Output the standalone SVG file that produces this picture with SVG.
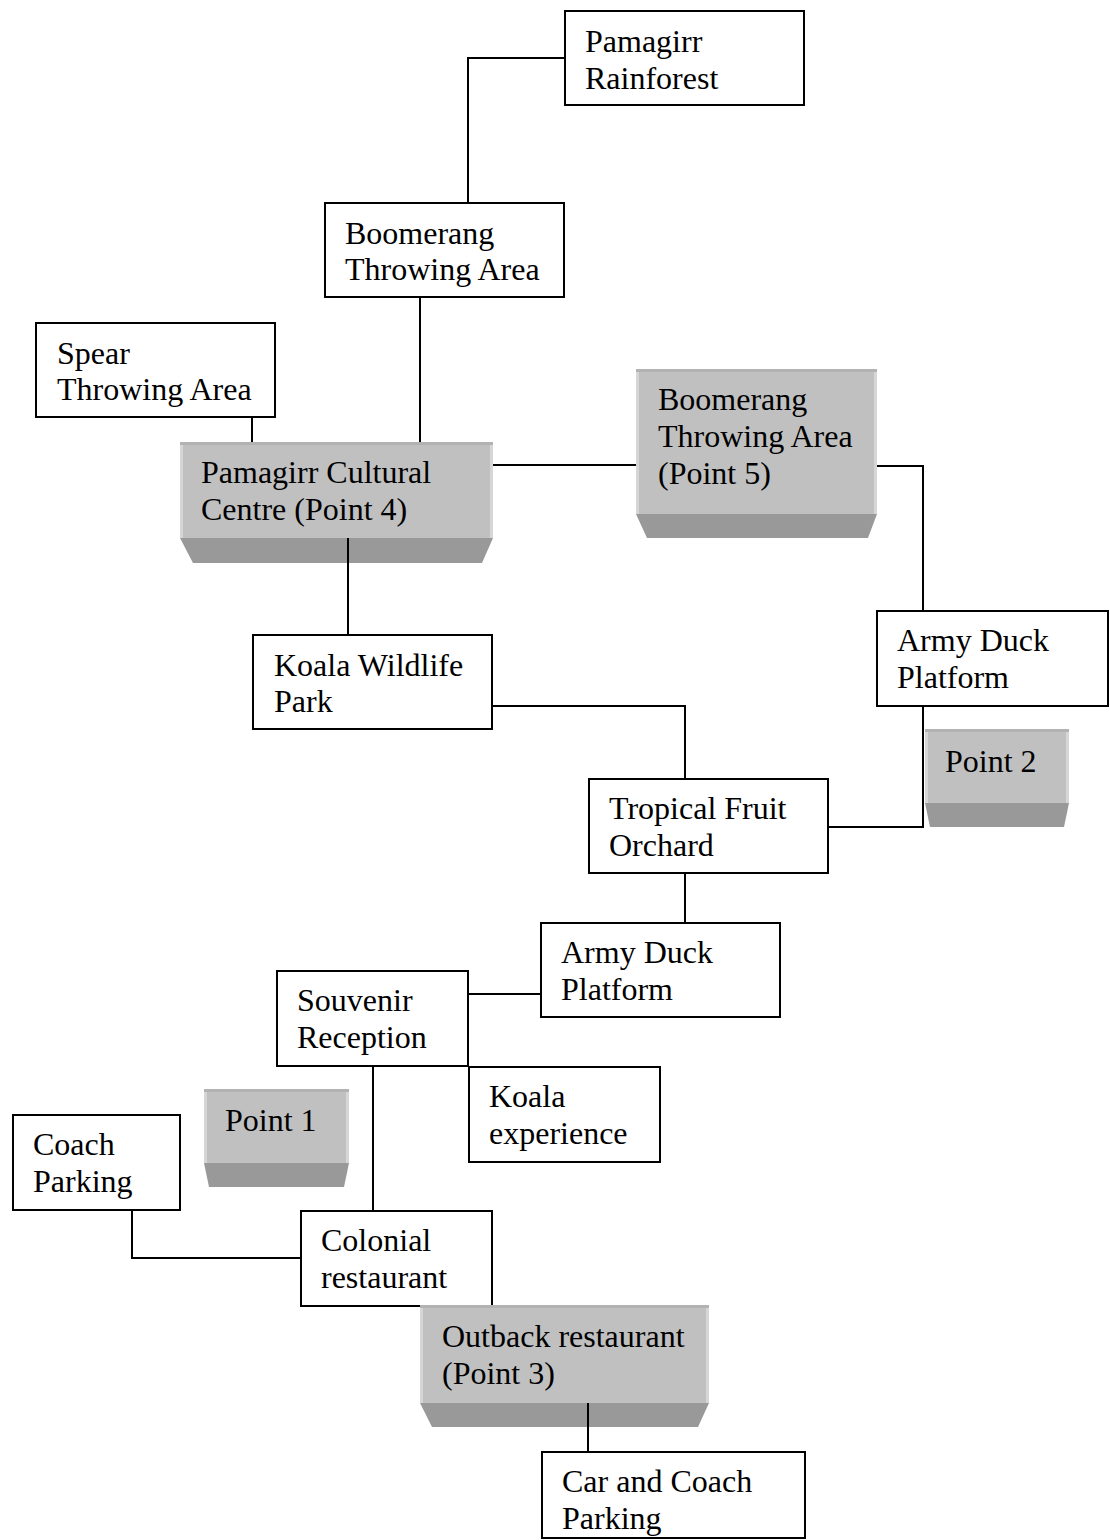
<svg xmlns="http://www.w3.org/2000/svg" width="1110" height="1540" viewBox="0 0 1110 1540">
<style>
.box{fill:#fff;stroke:#000;stroke-width:2}
.face{fill:#c0c0c0}
.topedge{fill:#b2b2b2}
.sideedge{fill:#d6d6d6}
.bevel{fill:#999999}
.t{font-family:"Liberation Serif","Times New Roman",serif;font-size:32px;fill:#000}
.c{fill:none;stroke:#000;stroke-width:2}
</style>
<rect width="1110" height="1540" fill="#fff"/>
<g id="nodes">
<g id="rainforest"><rect class="box" x="565" y="11" width="239" height="94"/><text class="t" x="585" y="52">Pamagirr</text><text class="t" x="585" y="89">Rainforest</text></g>
<g id="boomerang-top"><rect class="box" x="325" y="203" width="239" height="94"/><text class="t" x="345" y="244">Boomerang</text><text class="t" x="345" y="280">Throwing Area</text></g>
<g id="spear"><rect class="box" x="36" y="323" width="239" height="94"/><text class="t" x="57" y="364">Spear</text><text class="t" x="57" y="400">Throwing Area</text></g>
<g id="cultural-centre">
<polygon class="bevel" points="180,538 493,538 482,563 193,563"/>
<rect class="face" x="180" y="442" width="313" height="96"/>
<rect class="topedge" x="180" y="442" width="313" height="3"/>
<rect class="sideedge" x="180" y="445" width="3" height="93"/>
<rect class="sideedge" x="490" y="445" width="3" height="93"/>
<text class="t" x="201" y="483">Pamagirr Cultural</text><text class="t" x="201" y="520">Centre (Point 4)</text></g>
<g id="boomerang-point5">
<polygon class="bevel" points="636,514 877,514 868,538 647,538"/>
<rect class="face" x="636" y="369" width="241" height="145"/>
<rect class="topedge" x="636" y="369" width="241" height="3"/>
<rect class="sideedge" x="636" y="372" width="3" height="142"/>
<rect class="sideedge" x="874" y="372" width="3" height="142"/>
<text class="t" x="658" y="410">Boomerang</text><text class="t" x="658" y="447">Throwing Area</text><text class="t" x="658" y="484">(Point 5)</text></g>
<g id="koala-park"><rect class="box" x="253" y="635" width="239" height="94"/><text class="t" x="274" y="676">Koala Wildlife</text><text class="t" x="274" y="712">Park</text></g>
<g id="army-duck-right"><rect class="box" x="877" y="611" width="231" height="95"/><text class="t" x="897" y="651">Army Duck</text><text class="t" x="897" y="688">Platform</text></g>
<g id="point2">
<polygon class="bevel" points="925,803 1069,803 1064,827 930,827"/>
<rect class="face" x="925" y="729" width="144" height="74"/>
<rect class="topedge" x="925" y="729" width="144" height="3"/>
<rect class="sideedge" x="925" y="732" width="3" height="71"/>
<rect class="sideedge" x="1066" y="732" width="3" height="71"/>
<text class="t" x="945" y="772">Point 2</text></g>
<g id="orchard"><rect class="box" x="589" y="779" width="239" height="94"/><text class="t" x="609" y="819">Tropical Fruit</text><text class="t" x="609" y="856">Orchard</text></g>
<g id="army-duck-lower"><rect class="box" x="541" y="923" width="239" height="94"/><text class="t" x="561" y="963">Army Duck</text><text class="t" x="561" y="1000">Platform</text></g>
<g id="souvenir"><rect class="box" x="277" y="971" width="191" height="95"/><text class="t" x="297" y="1011">Souvenir</text><text class="t" x="297" y="1048">Reception</text></g>
<g id="koala-experience"><rect class="box" x="469" y="1067" width="191" height="95"/><text class="t" x="489" y="1107">Koala</text><text class="t" x="489" y="1144">experience</text></g>
<g id="point1">
<polygon class="bevel" points="204,1163 349,1163 344,1187 209,1187"/>
<rect class="face" x="204" y="1089" width="145" height="74"/>
<rect class="topedge" x="204" y="1089" width="145" height="3"/>
<rect class="sideedge" x="204" y="1092" width="3" height="71"/>
<rect class="sideedge" x="346" y="1092" width="3" height="71"/>
<text class="t" x="225" y="1131">Point 1</text></g>
<g id="coach-parking"><rect class="box" x="13" y="1115" width="167" height="95"/><text class="t" x="33" y="1155">Coach</text><text class="t" x="33" y="1192">Parking</text></g>
<g id="colonial"><rect class="box" x="301" y="1211" width="191" height="95"/><text class="t" x="321" y="1251">Colonial</text><text class="t" x="321" y="1288">restaurant</text></g>
<g id="outback-point3">
<polygon class="bevel" points="420,1403 709,1403 698,1427 432,1427"/>
<rect class="face" x="420" y="1305" width="289" height="98"/>
<rect class="topedge" x="420" y="1305" width="289" height="3"/>
<rect class="sideedge" x="420" y="1308" width="3" height="95"/>
<rect class="sideedge" x="706" y="1308" width="3" height="95"/>
<text class="t" x="442" y="1347">Outback restaurant</text><text class="t" x="442" y="1384">(Point 3)</text></g>
<g id="car-coach-parking"><rect class="box" x="542" y="1452" width="263" height="86"/><text class="t" x="562" y="1492">Car and Coach</text><text class="t" x="562" y="1529">Parking</text></g>
</g>
<g id="connectors">
<polyline class="c" points="564,58 468,58 468,202"/>
<line class="c" x1="420" y1="298" x2="420" y2="442"/>
<line class="c" x1="252" y1="418" x2="252" y2="442"/>
<line class="c" x1="493" y1="465" x2="636" y2="465"/>
<polyline class="c" points="877,466 923,466 923,610"/>
<line class="c" x1="348" y1="538" x2="348" y2="634"/>
<polyline class="c" points="492,706 685,706 685,778"/>
<polyline class="c" points="923,707 923,827 829,827"/>
<line class="c" x1="685" y1="874" x2="685" y2="922"/>
<line class="c" x1="468" y1="994" x2="540" y2="994"/>
<line class="c" x1="373" y1="1067" x2="373" y2="1211"/>
<polyline class="c" points="132,1210 132,1258 300,1258"/>
<line class="c" x1="588" y1="1403" x2="588" y2="1451"/>
</g>
</svg>
